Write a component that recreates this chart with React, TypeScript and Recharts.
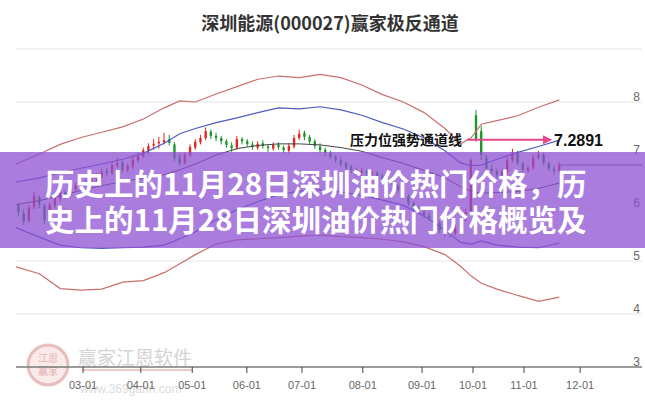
import { ComposedChart, Line, Bar, XAxis, YAxis, CartesianGrid, ReferenceLine, ReferenceDot } from 'recharts';

// x axis unit = one candle slot (every 2nd trading day)
const tickDays = [12.4, 23.5, 33.4, 43.9, 54.5, 66.2, 77.6, 87.4, 97.2, 108.0];
const tickLabels = ['03-01', '04-01', '05-01', '06-01', '07-01', '08-01', '09-01', '10-01', '11-01', '12-01'];
const priceTicks = [3, 4, 5, 6, 7, 8, 9];

// [open, high, low, close]
const candles: number[][] = [
  [6.05, 6.10, 5.85, 5.92], [5.90, 5.98, 5.68, 5.74], [5.76, 6.05, 5.72, 6.00], [6.02, 6.30, 5.98, 6.23],
  [6.20, 6.24, 6.00, 6.06], [6.04, 6.08, 5.70, 5.77], [5.80, 6.10, 5.76, 6.06], [6.05, 6.24, 6.00, 6.19],
  [6.18, 6.36, 6.12, 6.30], [6.30, 6.34, 6.18, 6.25], [6.24, 6.44, 6.20, 6.38], [6.36, 6.48, 6.32, 6.42],
  [6.40, 6.55, 6.36, 6.49], [6.50, 6.54, 6.40, 6.45], [6.44, 6.62, 6.42, 6.57], [6.55, 6.66, 6.50, 6.60],
  [6.58, 6.74, 6.55, 6.68], [6.70, 6.75, 6.60, 6.66], [6.66, 6.88, 6.62, 6.81], [6.80, 6.95, 6.76, 6.85],
  [6.86, 6.90, 6.66, 6.72], [6.72, 6.84, 6.68, 6.79], [6.78, 6.96, 6.74, 6.91], [6.90, 7.05, 6.86, 6.98],
  [6.98, 7.14, 6.94, 7.09], [7.08, 7.22, 7.02, 7.17], [7.18, 7.30, 7.10, 7.21], [7.22, 7.34, 7.12, 7.25],
  [7.24, 7.42, 7.20, 7.28], [7.30, 7.38, 7.18, 7.23], [7.20, 7.24, 6.88, 6.94], [6.96, 7.02, 6.80, 6.85],
  [6.86, 7.04, 6.82, 7.00], [7.00, 7.20, 6.96, 7.15], [7.14, 7.30, 7.10, 7.25], [7.24, 7.38, 7.20, 7.32],
  [7.32, 7.52, 7.28, 7.45], [7.44, 7.48, 7.30, 7.36], [7.36, 7.42, 7.26, 7.32], [7.32, 7.36, 7.20, 7.26],
  [7.26, 7.30, 7.14, 7.19], [7.18, 7.24, 7.06, 7.13], [7.14, 7.36, 7.10, 7.30], [7.30, 7.34, 7.20, 7.26],
  [7.26, 7.30, 7.16, 7.21], [7.20, 7.26, 7.10, 7.15], [7.14, 7.26, 7.10, 7.21], [7.22, 7.28, 7.12, 7.17],
  [7.16, 7.20, 7.06, 7.13], [7.12, 7.24, 7.08, 7.19], [7.20, 7.24, 7.10, 7.15], [7.14, 7.18, 7.04, 7.09],
  [7.08, 7.22, 7.04, 7.17], [7.16, 7.38, 7.12, 7.32], [7.32, 7.48, 7.28, 7.40], [7.42, 7.46, 7.28, 7.34],
  [7.34, 7.38, 7.20, 7.25], [7.26, 7.30, 7.12, 7.17], [7.16, 7.22, 7.04, 7.09], [7.10, 7.14, 6.98, 7.04],
  [7.04, 7.08, 6.92, 6.96], [6.96, 7.00, 6.86, 6.91], [6.90, 6.96, 6.78, 6.83], [6.84, 6.88, 6.72, 6.77],
  [6.78, 6.82, 6.66, 6.72], [6.72, 6.76, 6.62, 6.68], [6.66, 6.76, 6.62, 6.70], [6.70, 6.74, 6.58, 6.64],
  [6.64, 6.72, 6.60, 6.66], [6.66, 6.70, 6.54, 6.60], [6.60, 6.64, 6.50, 6.55], [6.54, 6.60, 6.46, 6.51],
  [6.50, 6.54, 6.38, 6.43], [6.42, 6.46, 6.28, 6.34], [6.34, 6.38, 6.18, 6.23], [6.22, 6.26, 6.04, 6.09],
  [6.08, 6.12, 5.94, 6.00], [6.00, 6.04, 5.88, 5.92], [5.92, 5.98, 5.82, 5.87], [5.86, 5.92, 5.76, 5.81],
  [5.80, 5.84, 5.68, 5.74], [5.72, 5.76, 5.52, 5.58], [5.58, 5.62, 5.46, 5.53], [5.52, 5.60, 5.44, 5.51],
  [5.52, 5.68, 5.48, 5.62], [5.62, 5.82, 5.58, 5.77], [5.78, 5.98, 5.74, 5.92], [5.95, 6.95, 5.90, 6.90],
  [7.75, 7.85, 7.25, 7.30], [7.45, 7.55, 6.90, 7.00], [6.95, 7.00, 6.70, 6.75], [6.74, 6.82, 6.64, 6.70],
  [6.70, 6.74, 6.56, 6.62], [6.62, 6.74, 6.58, 6.68], [6.68, 6.96, 6.64, 6.90], [6.90, 7.12, 6.86, 7.05],
  [7.04, 7.08, 6.80, 6.85], [6.84, 6.88, 6.66, 6.72], [6.70, 6.80, 6.66, 6.75], [6.76, 7.00, 6.72, 6.95],
  [6.96, 7.08, 6.92, 7.00], [7.00, 7.04, 6.80, 6.85], [6.84, 6.88, 6.70, 6.75], [6.74, 6.80, 6.62, 6.70],
  [6.70, 6.86, 6.66, 6.81],
];

// channel lines, sampled at these slots
const bandIdx = [-0.5, 4, 8, 12, 16, 20, 24, 28, 31, 34, 38, 42, 46, 50, 54, 58, 62, 66, 70, 74, 78, 82, 85, 87, 89, 92, 96, 100, 104];
const redUpper = [6.83, 7.02, 7.20, 7.33, 7.43, 7.53, 7.68, 7.89, 8.02, 8.00, 8.15, 8.29, 8.43, 8.49, 8.46, 8.52, 8.46, 8.32, 8.14, 8.00, 7.80, 7.50, 7.21, 7.32, 7.58, 7.65, 7.74, 7.90, 8.04];
const blueUpper = [6.49, 6.57, 6.66, 6.75, 6.83, 6.92, 7.03, 7.22, 7.40, 7.50, 7.61, 7.70, 7.80, 7.89, 7.87, 7.91, 7.85, 7.75, 7.61, 7.49, 7.32, 7.08, 6.85, 6.80, 6.81, 6.92, 7.05, 7.16, 7.28];
const midLine = [6.06, 6.14, 6.23, 6.33, 6.42, 6.50, 6.56, 6.63, 6.72, 6.83, 7.00, 7.12, 7.18, 7.21, 7.21, 7.19, 7.14, 7.07, 6.95, 6.84, 6.71, 6.57, 6.40, 6.32, 6.28, 6.29, 6.31, 6.37, 6.47];
const blueLower = [5.63, 5.45, 5.30, 5.25, 5.24, 5.25, 5.26, 5.30, 5.42, 5.55, 5.78, 5.97, 6.12, 6.25, 6.32, 6.34, 6.30, 6.24, 6.15, 6.05, 5.85, 5.58, 5.35, 5.32, 5.38, 5.30, 5.26, 5.25, 5.34];
const redLower = [4.89, 4.76, 4.48, 4.45, 4.47, 4.60, 4.63, 4.78, 4.95, 5.12, 5.32, 5.40, 5.42, 5.44, 5.47, 5.49, 5.46, 5.44, 5.41, 5.36, 5.27, 5.12, 4.90, 4.72, 4.58, 4.47, 4.35, 4.24, 4.32];

const pressureLevel = 7.2891;
const lastClose = 6.81;

const rowMap = new Map<number, any>();
candles.forEach(([o, h, l, c], i) => rowMap.set(i, { idx: i, o, h, l, c, hl: [l, h] }));
bandIdx.forEach((p, j) => {
  const r = rowMap.get(p) ?? { idx: p };
  r.ru = redUpper[j];
  r.bu = blueUpper[j];
  r.mid = midLine[j];
  r.bl = blueLower[j];
  r.rl = redLower[j];
  rowMap.set(p, r);
});
const data = [...rowMap.values()].sort((a, b) => a.idx - b.idx);

const Candle = (props: any) => {
  const { x, y, width, height, payload } = props;
  if (!payload || payload.o == null) return <g />;
  const { o, h, l, c } = payload;
  const top = Math.min(y, y + height);
  const hgt = Math.abs(height);
  const k = hgt / (h - l);
  const yO = top + (h - o) * k;
  const yC = top + (h - c) * k;
  const color = c >= o ? '#e3261d' : '#17962a';
  const cx = x + width / 2;
  return (
    <g>
      <line x1={cx} x2={cx} y1={top} y2={top + hgt} stroke={color} strokeWidth={1} />
      <rect x={x} y={Math.min(yO, yC)} width={width} height={Math.max(1, Math.abs(yC - yO))} fill={color} />
    </g>
  );
};

const PriceTick = ({ x, y, payload }: any) =>
  payload.value === 9 ? <g /> : (
    <text x={x - 2} y={y - 1} textAnchor="end" fontSize={12} fill="#666">{payload.value}</text>
  );

const DateTick = ({ x, y, payload }: any) => (
  <text x={x} y={y} dy={14} textAnchor="middle" fontSize={11} fill="#666">
    {tickLabels[tickDays.indexOf(payload.value)]}
  </text>
);

export default function App() {
  return (
    <div style={{ position: 'relative', width: 645, height: 400, background: '#fff', overflow: 'hidden', fontFamily: '"Liberation Sans", Arial, sans-serif' }}>
      <style>{'body{margin:0}'}</style>

      {/* watermark */}
      <svg width={645} height={400} style={{ position: 'absolute', left: 0, top: 0 }}>
        <circle cx={48} cy={365} r={20} fill="rgba(235,170,170,0.25)" stroke="rgba(210,120,120,0.45)" strokeWidth={3} />
        <text x={48} y={362} textAnchor="middle" fontSize={10} fill="rgba(200,100,100,0.45)" fontFamily="Noto Sans CJK SC">江恩</text>
        <text x={48} y={375} textAnchor="middle" fontSize={10} fill="rgba(200,100,100,0.45)" fontFamily="Noto Sans CJK SC">赢家</text>
        <text x={78} y={365} fontSize={19} fill="#d4d4d4" fontFamily="Noto Sans CJK SC">赢家江恩软件</text>
        <line x1={82} x2={192} y1={370} y2={370} stroke="rgba(220,150,150,0.5)" strokeWidth={2} />
        <text x={80} y={393} fontSize={12} fill="#dcdcdc">www.369gann.com</text>
      </svg>

      <ComposedChart width={645} height={400} data={data} margin={{ top: 49, right: 0, bottom: 0, left: 16 }}>
        <CartesianGrid vertical={false} stroke="#e6e6e6" />
        <XAxis
          dataKey="idx"
          type="number"
          domain={[-0.5, 119.9]}
          ticks={tickDays}
          height={33}
          axisLine={{ stroke: '#444' }}
          tickLine={{ stroke: '#444' }}
          tickSize={6}
          tick={<DateTick />}
          interval={0}
        />
        <YAxis
          orientation="right"
          domain={[3, 9]}
          ticks={priceTicks}
          width={3}
          axisLine={false}
          tickLine={false}
          tickSize={0}
          tickMargin={0}
          tick={<PriceTick />}
          interval={0}
        />
        <Line dataKey="ru" stroke="#c8706c" strokeWidth={1.2} dot={false} connectNulls isAnimationActive={false} />
        <Line dataKey="rl" stroke="#c8706c" strokeWidth={1.2} dot={false} connectNulls isAnimationActive={false} />
        <Line dataKey="bu" stroke="#4d5cbd" strokeWidth={1.2} dot={false} connectNulls isAnimationActive={false} />
        <Line dataKey="bl" stroke="#4d5cbd" strokeWidth={1.2} dot={false} connectNulls isAnimationActive={false} />
        <Line dataKey="mid" stroke="#444" strokeWidth={1} dot={false} connectNulls isAnimationActive={false} />
        <Bar dataKey={(d: any) => d.hl} barSize={3} shape={<Candle />} isAnimationActive={false} />
        <ReferenceLine segment={[{ x: 104, y: lastClose }, { x: 119.9, y: lastClose }]} stroke="#666" strokeWidth={1} />
        <ReferenceLine segment={[{ x: 86.2, y: pressureLevel }, { x: 101.6, y: pressureLevel }]} stroke="#e8458b" strokeWidth={2} />
        <ReferenceDot
          x={85.3}
          y={pressureLevel}
          r={0}
          shape={(p: any) => (
            <text x={p.cx} y={p.cy} dy={5} textAnchor="end" fontSize={14} fontWeight="bold" fill="#111" fontFamily="Noto Sans CJK SC">
              压力位强势通道线
            </text>
          )}
        />
        <ReferenceDot
          x={102.6}
          y={pressureLevel}
          r={0}
          shape={(p: any) => (
            <g>
              <polygon points={`${p.cx},${p.cy} ${p.cx - 9},${p.cy - 4.5} ${p.cx - 9},${p.cy + 4.5}`} fill="#e8458b" />
              <text x={p.cx + 2} y={p.cy} dy={6} fontSize={16} fontWeight="bold" fill="#111">
                {pressureLevel}
              </text>
            </g>
          )}
        />
      </ComposedChart>

      <div style={{ position: 'absolute', left: 0, width: 660, top: 11, textAlign: 'center', lineHeight: '22px', fontSize: 18, fontWeight: 'bold', color: '#333', fontFamily: '"Noto Sans CJK SC", sans-serif' }}>
        深圳能源(000027)赢家极反通道
      </div>

      <div
        style={{
          position: 'absolute', left: 0, top: 152, width: 645, height: 96, background: 'rgba(140,80,210,0.75)',
          color: '#fff', fontFamily: '"Noto Sans CJK SC", sans-serif', fontWeight: 'bold', fontSize: 29.5,
          lineHeight: '36px', paddingTop: 12, paddingLeft: 45, boxSizing: 'border-box', whiteSpace: 'nowrap', overflow: 'hidden',
        }}
      >
        <div>历史上的11月28日深圳油价热门价格，历</div>
        <div>史上的11月28日深圳油价热门价格概览及</div>
      </div>
    </div>
  );
}
